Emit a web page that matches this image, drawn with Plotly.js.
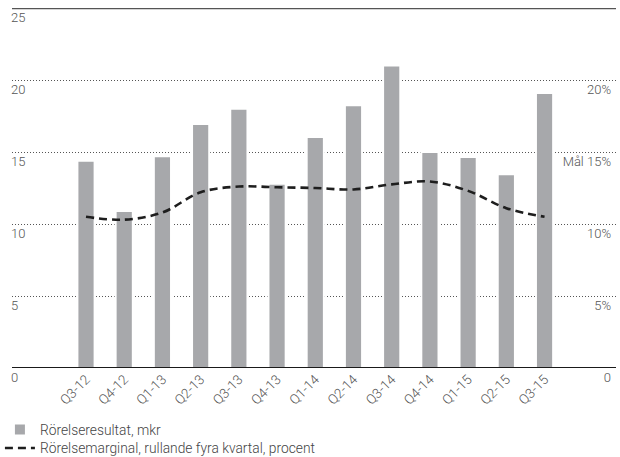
<!DOCTYPE html>
<html>
<head>
<meta charset="utf-8">
<script src="https://cdn.plot.ly/plotly-3.0.1.min.js"></script>
<style>html,body{margin:0;padding:0;background:#fff;}#chart{width:620px;height:457px;}</style>
</head>
<body>
<div id="chart"></div>
<script>
const quarters = ["Q3-12","Q4-12","Q1-13","Q2-13","Q3-13","Q4-13","Q1-14","Q2-14","Q3-14","Q4-14","Q1-15","Q2-15","Q3-15"];
const rorelseresultat = [14.4, 10.9, 14.7, 16.95, 18.0, 12.8, 16.05, 18.25, 21.0, 15.0, 14.65, 13.45, 19.1];
const rorelsemarginal = [10.5, 10.3, 10.8, 12.2, 12.6, 12.55, 12.5, 12.4, 12.75, 12.95, 12.3, 11.1, 10.5];
const leftTickVals = [0, 5, 10, 15, 20, 25];
const leftTickText = ["0", "5", "10", "15", "20", "25"];
const rightTickVals = [0, 5, 10, 15, 20];
const rightTickText = ["0", "5%", "10%", "Mål 15%", "20%"];
const barName = "Rörelseresultat, mkr";
const lineName = "Rörelsemarginal, rullande fyra kvartal, procent";

const FONT = "Roboto, 'Liberation Sans', Arial, sans-serif";
const TXT = "#555";
const LEGFONT = {family: FONT, size: 13.8, color: "#444", weight: 300};

const traces = [
  {
    type: "bar",
    x: quarters,
    y: rorelseresultat,
    name: barName,
    legend: "legend",
    width: 0.45,
    marker: {color: "#a7a8ab", line: {color: "#ffffff", width: 2}},
    hoverinfo: "x+y"
  },
  {
    type: "scatter",
    mode: "lines",
    x: quarters,
    y: rorelsemarginal,
    yaxis: "y2",
    name: lineName,
    legend: "legend2",
    line: {color: "#1e1e1e", width: 2.6, dash: "8px,5px", shape: "spline", smoothing: 1}
  }
];

const layout = {
  width: 620,
  height: 457,
  margin: {l: 12, r: 4, t: 8, b: 89, autoexpand: false},
  paper_bgcolor: "#fff",
  plot_bgcolor: "#fff",
  font: {family: FONT, color: TXT, size: 12, weight: 300},
  showlegend: true,
  legend: {
    orientation: "v",
    x: -0.02, xanchor: "left",
    y: -0.1281, yanchor: "top",
    bgcolor: "rgba(0,0,0,0)",
    font: LEGFONT,
    itemwidth: 30
  },
  legend2: {
    orientation: "v",
    x: -0.02, xanchor: "left",
    y: -0.1794, yanchor: "top",
    bgcolor: "rgba(0,0,0,0)",
    font: LEGFONT,
    itemwidth: 30
  },
  xaxis: {
    type: "category",
    range: [-1.937, 13.87],
    automargin: false,
    showgrid: false,
    zeroline: false,
    showline: false,
    ticks: "",
    tickangle: -45,
    tickfont: {family: FONT, size: 13.5, color: TXT, weight: 300},
    fixedrange: true
  },
  yaxis: {
    range: [0, 25],
    automargin: false,
    tickvals: leftTickVals,
    ticktext: leftTickText,
    ticklabelposition: "inside bottom",
    ticklabeloverflow: "allow",
    ticklabelstandoff: -4,
    tickfont: {family: FONT, size: 13, color: TXT, weight: 300},
    showgrid: true,
    gridcolor: "#555",
    gridwidth: 1,
    griddash: "1px,2px",
    zeroline: false,
    showline: false,
    ticks: "",
    fixedrange: true
  },
  yaxis2: {
    overlaying: "y",
    side: "right",
    range: [0, 25],
    automargin: false,
    tickvals: rightTickVals,
    ticktext: rightTickText,
    ticklabelposition: "inside bottom",
    ticklabeloverflow: "allow",
    ticklabelstandoff: 2,
    tickfont: {family: FONT, size: 13, color: TXT, weight: 300},
    showgrid: false,
    zeroline: false,
    showline: false,
    ticks: "",
    fixedrange: true
  },
  shapes: [
    {type: "line", xref: "paper", yref: "y", x0: 0, x1: 1, y0: 0, y1: 0, line: {color: "#1a1a1a", width: 2}, layer: "above"},
    {type: "line", xref: "paper", yref: "y", x0: 0, x1: 1, y0: 25, y1: 25, line: {color: "#555", width: 2.5}, layer: "above"}
  ]
};

Plotly.newPlot("chart", traces, layout, {displayModeBar: false, staticPlot: true});
</script>
</body>
</html>
